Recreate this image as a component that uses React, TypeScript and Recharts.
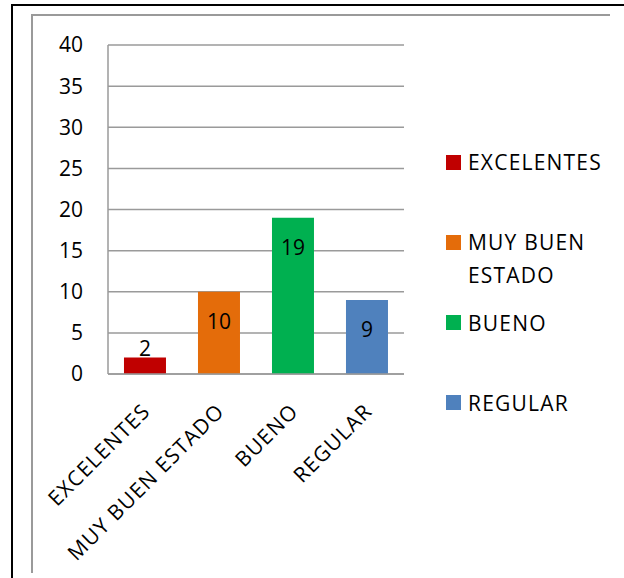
import { BarChart, Bar, XAxis, YAxis, CartesianGrid, Cell, LabelList } from 'recharts'

const categories = ['EXCELENTES', 'MUY BUEN ESTADO', 'BUENO', 'REGULAR']
const counts = [2, 10, 19, 9]
const colors = ['#C00000', '#E46C0A', '#00B050', '#4F81BD']
const yTicks = [0, 5, 10, 15, 20, 25, 30, 35, 40]

const data = categories.map((name, i) => ({ name, value: counts[i] }))

const FONT = '"Open Sans", sans-serif'
const GRAY = '#9a9a9a'
const SPACING = 1.2

const AngledTick = ({ x, y, payload }: any) => (
  <g transform={`translate(${x - 4},${y})`}>
    <text
      x={0}
      y={0}
      dy={15}
      textAnchor="end"
      transform="rotate(-45)"
      fill="#000"
      fontSize={21}
      fontFamily={FONT}
      letterSpacing={SPACING}
    >
      {payload.value}
    </text>
  </g>
)

// label sits inside the bar near its top, or above it when the bar is short
const ValueLabel = ({ x, y, width, height, value }: any) => {
  const cy = height > 40 ? y + 29 : y - 10
  return (
    <text
      x={x + width / 2}
      y={cy}
      textAnchor="middle"
      dominantBaseline="central"
      fill="#000"
      fontSize={21}
      fontFamily={FONT}
    >
      {value}
    </text>
  )
}

const SideLegend = () => (
  <div style={{ position: 'absolute', left: 446, top: 146, width: 175, fontFamily: FONT, fontSize: 21, color: '#000', letterSpacing: SPACING }}>
    {categories.map((c, i) => (
      <div key={c} style={{ display: 'flex', alignItems: 'flex-start', height: 80.3 }}>
        <div style={{ width: 15, height: 15, background: colors[i], marginTop: 8.5, marginRight: 7, flexShrink: 0 }} />
        <div style={{ width: 145, lineHeight: '32.3px' }}>{c}</div>
      </div>
    ))}
  </div>
)

export default function App() {
  return (
    <div style={{ position: 'absolute', left: 0, top: 0, width: 624, height: 578, background: '#fff', overflow: 'hidden' }}>
      {/* outer frame */}
      <div style={{ position: 'absolute', left: 11, top: 4, width: 2, height: 574, background: '#000' }} />
      <div style={{ position: 'absolute', left: 11, top: 4, width: 613, height: 2, background: '#000' }} />
      {/* chart area frame */}
      <div style={{ position: 'absolute', left: 31, top: 14, width: 2, height: 559, background: GRAY }} />
      <div style={{ position: 'absolute', left: 31, top: 14, width: 579, height: 2, background: GRAY }} />

      <div style={{ position: 'absolute', left: 0, top: 0 }}>
        <BarChart
          width={624}
          height={578}
          data={data}
          margin={{ top: 45, right: 220, left: 48, bottom: 54 }}
          barCategoryGap="21.6%"
        >
          <CartesianGrid horizontal vertical={false} stroke={GRAY} strokeWidth={1.5} />
          <XAxis
            dataKey="name"
            interval={0}
            height={150}
            tickSize={0}
            tickMargin={28}
            tickLine={false}
            axisLine={{ stroke: GRAY, strokeWidth: 1.5 }}
            tick={<AngledTick />}
          />
          <YAxis
            width={60}
            domain={[0, 40]}
            ticks={yTicks}
            interval={0}
            tickSize={0}
            tickMargin={25}
            tickLine={false}
            axisLine={{ stroke: GRAY, strokeWidth: 1.5 }}
            tick={{ fill: '#000', fontSize: 21, fontFamily: FONT }}
          />
          <Bar dataKey="value" isAnimationActive={false}>
            {data.map((d, i) => (
              <Cell key={d.name} fill={colors[i]} />
            ))}
            <LabelList dataKey="value" content={<ValueLabel />} />
          </Bar>
        </BarChart>
      </div>
      <SideLegend />
    </div>
  )
}
